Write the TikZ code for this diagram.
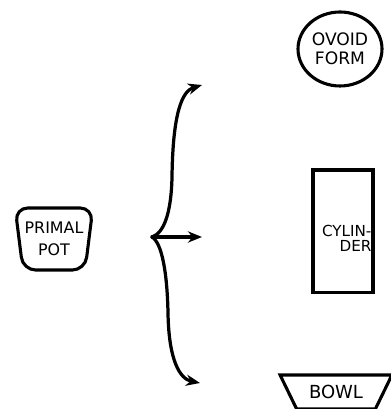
\documentclass[tikz,border=0pt]{standalone}
\usepackage{fontspec}
\newfontfamily\handfont{DejaVu Sans}
\usepackage{tikz}
\usetikzlibrary{shapes.geometric,arrows.meta,positioning,calc}

\begin{document}
\begin{tikzpicture}[
    form/.style={draw, line width=2.2pt, font=\handfont\fontsize{12}{14}\selectfont, align=center, inner sep=1pt},
    pot/.style={trapezium, shape border rotate=180, trapezium stretches=true, rounded corners=9pt},
    branch/.style={line width=2.3pt, line cap=round},
    >={Stealth[length=10pt,width=8pt]}
]
\useasboundingbox (0,0) rectangle (9.75,10.225);

% 形状节点
\node[form, pot, minimum width=1.95cm, minimum height=1.55cm, trapezium angle=78, font=\handfont\fontsize{11.3}{15.5}\selectfont] (pot) at (1.35,4.25) {PRIMAL\\POT};
\node[form, ellipse, minimum width=2.1cm, minimum height=1.85cm, font=\handfont\fontsize{12.2}{13.5}\selectfont] (ovoid) at (8.5,9.0) {OVOID\\FORM};
\node[form, rectangle, minimum width=1.5cm, minimum height=3.07cm] (cyl) at (8.575,4.44) {};
\node[font=\handfont\fontsize{10.8}{10.6}\selectfont, align=right, inner sep=2pt, anchor=east] (cyltext) at ([yshift=-0.17cm]cyl.east) {CYLIN-\\DER};
\node[form, trapezium, shape border rotate=180, trapezium stretches=true, minimum width=2.8cm, minimum height=0.85cm, trapezium angle=54, font=\handfont\fontsize{12.8}{14}\selectfont] (bowl) at (8.4,0.425) {BOWL};

% 分支箭头
\coordinate (j) at (3.8,4.3);
\coordinate (up) at (5.05,8.1);
\coordinate (mid) at (5.05,4.3);
\coordinate (down) at (5.0,0.65);
\draw[branch, ->] (j) .. controls (4.1,4.4) and (4.28,4.9) .. (4.3,5.8) .. controls (4.32,7.4) and (4.55,7.95) .. (up);
\draw[branch, ->] (j) -- (mid);
\draw[branch, ->] (j) .. controls (4.05,4.15) and (4.18,3.4) .. (4.2,2.4) .. controls (4.22,1.2) and (4.5,0.75) .. (down);

\end{tikzpicture}
\end{document}
